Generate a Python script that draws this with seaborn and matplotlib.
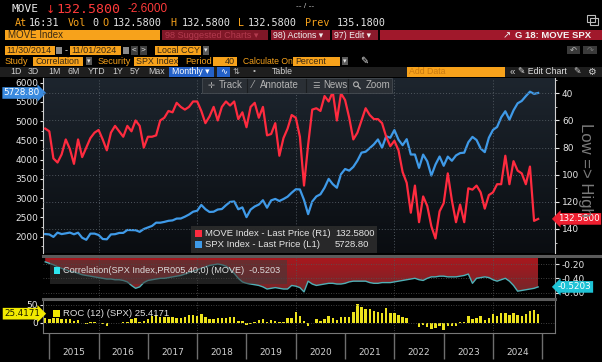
import numpy as np
import pandas as pd
import matplotlib
matplotlib.use("Agg")
import matplotlib.pyplot as plt
import matplotlib.transforms as mtrans
from matplotlib.patches import Rectangle, Circle
from matplotlib.colors import LinearSegmentedColormap
from matplotlib.ticker import MultipleLocator
import seaborn as sns

# ---- data: monthly points, Nov 2014 .. Nov 2024 ----
month_ends = pd.date_range("2014-11-30", "2024-11-30", freq="ME")

move = [66, 68, 88, 91, 85, 74, 81, 92, 74, 87,
        80, 73, 69, 67, 74, 82, 69, 64, 68, 72,
        64, 68, 60, 64, 80, 72, 72, 71, 60, 58,
        53, 54, 47, 50, 52, 50, 46, 46, 53, 62,
        57, 50, 60, 50, 46, 49, 46, 59, 54, 65,
        50, 47, 58, 50, 71, 70, 62, 86, 73, 66,
        56, 58, 72, 108, 78, 52, 51, 53, 42, 46,
        39, 60, 40, 45, 58, 74, 69, 60, 51, 56,
        59, 59, 62, 72, 79, 75, 82, 98, 106, 128,
        108, 135, 116, 123, 138, 147, 127, 121, 99, 119,
        135, 122, 135, 110, 111, 108, 113, 125, 115, 113,
        107, 107, 86, 107, 90, 97, 99, 107, 94, 134,
        132.58]

spx = [2068, 2059, 1995, 2105, 2068, 2086, 2107, 2063, 2104, 1972,
       1920, 2079, 2080, 2044, 1940, 1932, 2060, 2065, 2097, 2099,
       2174, 2171, 2168, 2126, 2199, 2239, 2279, 2364, 2363, 2384,
       2412, 2423, 2470, 2472, 2519, 2575, 2648, 2674, 2824, 2714,
       2641, 2648, 2705, 2718, 2816, 2902, 2914, 2712, 2760, 2507,
       2704, 2784, 2834, 2946, 2752, 2942, 2980, 2926, 2977, 3038,
       3141, 3231, 3226, 2954, 2585, 2912, 3044, 3100, 3271, 3500,
       3363, 3270, 3622, 3756, 3714, 3811, 3973, 4181, 4204, 4298,
       4395, 4523, 4308, 4605, 4567, 4766, 4516, 4374, 4530, 4132,
       4132, 3785, 4130, 3955, 3586, 3872, 4080, 3840, 4077, 3970,
       4109, 4169, 4180, 4450, 4589, 4508, 4288, 4194, 4568, 4770,
       4846, 5096, 5254, 5036, 5278, 5460, 5522, 5648, 5762, 5705,
       5728.80]

corr = [-0.17, -0.19, -0.21, -0.24, -0.26, -0.28, -0.30, -0.31, -0.33, -0.35,
        -0.36, -0.37, -0.38, -0.39, -0.40, -0.41, -0.41, -0.42, -0.42, -0.43,
        -0.45, -0.50, -0.54, -0.52, -0.46, -0.43, -0.42, -0.41, -0.40, -0.40,
        -0.39, -0.38, -0.37, -0.36, -0.34, -0.32, -0.30, -0.28, -0.26, -0.24,
        -0.22, -0.21, -0.20, -0.21, -0.23, -0.27, -0.33, -0.40, -0.45, -0.47,
        -0.48, -0.49, -0.50, -0.52, -0.55, -0.54, -0.53, -0.54, -0.55, -0.55,
        -0.50, -0.51, -0.53, -0.59, -0.44, -0.48, -0.50, -0.49, -0.48, -0.47,
        -0.47, -0.48, -0.48, -0.47, -0.45, -0.44, -0.44, -0.44, -0.44, -0.46,
        -0.47, -0.47, -0.46, -0.46, -0.46, -0.45, -0.44, -0.43, -0.42, -0.41,
        -0.40, -0.42, -0.43, -0.40, -0.38, -0.38, -0.37, -0.37, -0.38, -0.38,
        -0.38, -0.37, -0.36, -0.34, -0.47, -0.40, -0.39, -0.38, -0.39, -0.42,
        -0.44, -0.42, -0.40, -0.44, -0.50, -0.58, -0.57, -0.56, -0.55, -0.54,
        -0.5203]

roc = [14.5, 11.4, 11.9, 13.2, 10.4, 10.7, 9.6, 5.2, 9.0, -1.6,
       -2.6, 3.0, 0.6, -0.7, -2.7, -8.2, -0.4, -1.0, -0.5, 1.7,
       3.3, 10.1, 12.9, 2.3, 5.7, 9.5, 17.5, 22.3, 14.7, 15.4,
       15.0, 15.5, 13.7, 13.9, 16.2, 21.1, 20.4, 19.4, 23.9, 14.8,
       11.8, 11.1, 12.2, 12.2, 14.0, 17.4, 15.7, 5.3, 4.3, -6.2,
       -4.2, 2.6, 7.3, 11.2, 1.7, 8.2, 5.8, 0.9, 2.2, 12.0,
       13.8, 28.9, 19.3, 6.1, -8.8, -1.1, 10.6, 5.4, 9.8, 19.6,
       13.0, 7.7, 15.3, 16.3, 15.2, 29.0, 53.7, 43.6, 38.1, 38.6,
       34.4, 29.2, 28.1, 40.8, 26.1, 26.9, 21.6, 14.8, 14.0, -1.2,
       -1.7, -11.9, -6.0, -12.6, -16.8, -15.9, -10.7, -19.4, -9.7, -9.2,
       -9.3, 0.9, 1.2, 17.6, 11.1, 14.0, 19.6, 8.3, 12.0, 24.2,
       18.9, 28.4, 27.9, 20.8, 26.3, 22.7, 20.3, 25.3, 34.4, 36.0,
       25.4171]

year_labels = ["2015", "2016", "2017", "2018", "2019",
               "2020", "2021", "2022", "2023", "2024"]
left_ticks = [2000, 2500, 3000, 3500, 4000, 4500, 5000, 5500, 6000]
right_ticks = [40, 60, 80, 100, 120, 140]
corr_ticks = [-0.20, -0.40, -0.60]
roc_ticks = [0, 50]
grid_years = [2016, 2018, 2020, 2022, 2024]

t = np.asarray(month_ends.year + month_ends.month / 12.0, dtype=float)
df = pd.DataFrame({"t": t, "move": move, "spx": spx, "corr": corr, "roc": roc})

# ---- figure / helpers ----
W, H = 602, 362
plt.rcParams["font.family"] = ["DejaVu Sans"]
fig = plt.figure(figsize=(W / 100, H / 100), dpi=100, facecolor="black")

def px_axes(x0, y0, x1, y1):
    return fig.add_axes([x0 / W, 1 - y1 / H, (x1 - x0) / W, (y1 - y0) / H])

XLIM = (2014.872, 2025.258)
ORANGE = "#f7a21b"
DARK = "#3a2a14"
WHITE = "#e6e6e6"
RED = "#ff2b3f"
BLUE = "#3f9ae8"
DOT = (0, (1, 2))

# ---- main chart ----
bg = px_axes(43, 78, 555, 253)
bg.imshow(np.linspace(0, 1, 100).reshape(-1, 1), aspect="auto",
          cmap=LinearSegmentedColormap.from_list("bg", ["#1d252e", "#0a0d11"]),
          extent=[0, 1, 0, 1])
bg.axis("off")

ax = px_axes(43, 78, 555, 253)
ax.set_facecolor("none")
ax_r = ax.twinx()

sns.lineplot(data=df, x="t", y="spx", ax=ax, color=BLUE, linewidth=1.6)
sns.lineplot(data=df, x="t", y="move", ax=ax_r, color=RED, linewidth=1.6)

ax.set_xlim(XLIM)
ax.set_ylim(1577, 6117)
ax_r.set_ylim(157.7, 28.7)
for a in (ax, ax_r):
    a.set_xlabel("")
    a.set_ylabel("")

ax.set_xticks(grid_years)
ax.tick_params(axis="x", length=0, labelbottom=False)
ax.grid(axis="x", linestyle=DOT, color="#4e565e", linewidth=0.7)
ax.set_yticks(left_ticks)
ax.yaxis.set_minor_locator(MultipleLocator(250))
ax.tick_params(axis="y", which="major", colors=WHITE, labelsize=6.5,
               length=2.5, width=0.8, pad=1)
ax.tick_params(axis="y", which="minor", color=WHITE, length=1.5, width=0.6)

ax_r.set_yticks(right_ticks)
ax_r.yaxis.set_minor_locator(MultipleLocator(10))
ax_r.tick_params(axis="y", which="major", colors=WHITE, labelsize=6.5,
                 length=3, width=0.8, pad=2)
ax_r.tick_params(axis="y", which="minor", color=WHITE, length=1.5, width=0.6)
ax_r.grid(axis="y", linestyle=DOT, color="#4e565e", linewidth=0.7)
ax_r.tick_params(axis="x", length=0, labelbottom=False)

for s in ("top", "bottom", "right"):
    ax.spines[s].set_visible(False)
for s in ("top", "bottom", "left"):
    ax_r.spines[s].set_visible(False)
ax.spines["left"].set_color("#d0d0d0")
ax_r.spines["right"].set_color("#d0d0d0")

# value tags on the axes
tr_l = mtrans.blended_transform_factory(ax.transAxes, ax.transData)
ax.text(-0.006, spx[-1], f"{spx[-1]:.2f}", transform=tr_l, ha="right", va="center",
        fontsize=6.3, color="white", clip_on=False, zorder=20,
        bbox=dict(boxstyle="rarrow,pad=0.15", fc="#3a8ade", ec="none"))
tr_r = mtrans.blended_transform_factory(ax_r.transAxes, ax_r.transData)
ax_r.text(1.006, move[-1], f"{move[-1]:.4f}", transform=tr_r, ha="left", va="center",
          fontsize=6.3, color="white", clip_on=False, zorder=20,
          bbox=dict(boxstyle="larrow,pad=0.15", fc="#ee1f30", ec="none"))

# ---- correlation panel ----
ax_c = px_axes(43, 256, 555, 298)
ax_c.set_facecolor("black")
c_top, c_bot = -0.088, -0.6755
fill = ax_c.fill_between(df["t"], df["corr"], c_top, color="none", linewidth=0)
grad = ax_c.imshow(np.linspace(0, 1, 100).reshape(-1, 1), origin="lower", aspect="auto",
                   cmap=LinearSegmentedColormap.from_list("rd", ["#6a2b2b", "#8c1f24", "#ab171d"]),
                   extent=[t[0], t[-1], c_bot, c_top], zorder=1)
grad.set_clip_path(fill.get_paths()[0], transform=ax_c.transData)
sns.lineplot(data=df, x="t", y="corr", ax=ax_c, color="#4fb0b6", linewidth=1.0, zorder=3)
ax_c.set_xlim(XLIM)
ax_c.set_ylim(c_bot, c_top)
ax_c.set_xlabel("")
ax_c.set_ylabel("")
ax_c.yaxis.tick_right()
ax_c.set_yticks(corr_ticks, labels=[f"{v:.2f}" for v in corr_ticks])
ax_c.tick_params(axis="y", colors=WHITE, labelsize=6.5, length=3, width=0.8, pad=2)
ax_c.set_xticks(grid_years)
ax_c.tick_params(axis="x", length=0, labelbottom=False)
ax_c.grid(True, linestyle=DOT, color="#555555", linewidth=0.6)
for s in ("top", "bottom", "left"):
    ax_c.spines[s].set_visible(False)
ax_c.spines["right"].set_color("#8a8a8a")
tr_c = mtrans.blended_transform_factory(ax_c.transAxes, ax_c.transData)
ax_c.text(1.006, corr[-1], f"{corr[-1]:.4f}", transform=tr_c, ha="left", va="center",
          fontsize=6.3, color="white", clip_on=False, zorder=20,
          bbox=dict(boxstyle="larrow,pad=0.15", fc="#1ec3d6", ec="none"))

# ---- ROC panel ----
ax_o = px_axes(43, 299, 555, 333)
ax_o.set_facecolor("black")
sns.barplot(data=df, x="t", y="roc", ax=ax_o, native_scale=True, width=0.6,
            color="#ece21c", saturation=1, errorbar=None)
ax_o.set_xlim(XLIM)
ax_o.set_ylim(-29.1, 66.9)
ax_o.set_xlabel("")
ax_o.set_ylabel("")
ax_o.set_yticks(roc_ticks)
ax_o.tick_params(axis="y", colors=WHITE, labelsize=6.5, length=2.5, width=0.8, pad=1)
ax_o.grid(axis="y", linestyle=DOT, color="#555555", linewidth=0.6)
for yr in grid_years:
    ax_o.axvline(yr, linestyle=DOT, color="#555555", linewidth=0.6, zorder=0)
ax_o.set_xticks(range(2015, 2026), labels=[""] * 11)
ax_o.set_xticks([y + 0.5 for y in range(2015, 2025)], labels=year_labels, minor=True)
ax_o.tick_params(axis="x", which="major", length=19, width=1, color="#6e6e6e")
ax_o.tick_params(axis="x", which="minor", length=0, pad=11, labelsize=6.5,
                 labelcolor="#d0d0d0")
ax_o.spines["top"].set_visible(False)
for s in ("left", "right", "bottom"):
    ax_o.spines[s].set_color("#777777")
    ax_o.spines[s].set_linewidth(0.8)
tr_o = mtrans.blended_transform_factory(ax_o.transAxes, ax_o.transData)
ax_o.text(-0.006, roc[-1], f"{roc[-1]:.4f}", transform=tr_o, ha="right", va="center",
          fontsize=6.3, color="#1e1e00", clip_on=False, zorder=20,
          bbox=dict(boxstyle="rarrow,pad=0.15", fc="#f2ea00", ec="none"))

# ---- terminal chrome (pixel overlay) ----
ui = fig.add_axes([0, 0, 1, 1], zorder=10)
ui.set_xlim(0, W)
ui.set_ylim(H, 0)
ui.axis("off")
ui.patch.set_visible(False)

def box(x0, y0, x1, y1, fc, ec="none", lw=0, alpha=1.0):
    ui.add_patch(Rectangle((x0, y0), x1 - x0, y1 - y0, fc=fc, ec=ec, lw=lw, alpha=alpha))

def txt(x, y, s, color, size=6.6, ha="left", fam="Liberation Sans", **kw):
    ui.text(x, y, s, color=color, fontsize=size, ha=ha, va="center",
            family=[fam, "DejaVu Sans"], **kw)

# row 1
txt(11, 9.5, "MOVE", "#ececec", 8, fam="DejaVu Sans Mono")
txt(46, 9.5, "↓", "#ff3030", 8, fam="DejaVu Sans")
txt(56, 9.5, "132.5800", "#ff3a3a", 9.5, fam="DejaVu Sans Mono")
txt(128, 9.5, "-2.6000", "#ff3a3a", 8.5)
txt(296, 7, "-- / --", "#bdbdbd", 6)
box(587, 15, 595, 22, "none", ec="#bdbdbd", lw=0.8)
box(590, 18, 598, 25, "none", ec="#bdbdbd", lw=0.8)

# row 2
for x, s, c in [(15, "At", ORANGE), (29, "16:31", WHITE), (68, "Vol", ORANGE),
                (92, "0", WHITE), (102, "O", ORANGE), (113, "132.5800", WHITE),
                (170, "H", ORANGE), (182, "132.5800", WHITE), (238, "L", ORANGE),
                (248, "132.5800", WHITE), (305, "Prev", ORANGE), (337, "135.1800", WHITE)]:
    txt(x, 22.5, s, c, 7.3, fam="DejaVu Sans Mono")

# row 3
box(5, 29.5, 160, 40, ORANGE)
txt(8, 35, "MOVE Index", DARK, 7)
box(162, 29.5, 268, 40, "#7f1727")
txt(165, 35, "98 Suggested Charts ▾", "#b23a4e", 6.6)
box(271, 29.5, 330, 40, "#8c1a2c")
txt(273, 35, "98) Actions ▾", "#f0f0f0", 6.3)
box(332, 29.5, 378, 40, "#8c1a2c")
txt(334, 35, "97) Edit ▾", "#f0f0f0", 6.3)
box(380, 29.5, 602, 40, "#a0182b")
txt(503, 35, "↗", "#f0f0f0", 7, fam="DejaVu Sans")
txt(591, 35, "G 18: MOVE SPX", "#f4f4f4", 6.8, ha="right", weight="bold")

# row 4
box(5, 46, 55, 55, ORANGE)
txt(6, 50.5, "11/30/2014", DARK)
box(56, 47, 62, 54, "#8a8a8a")
txt(65, 50.5, "-", WHITE)
box(70, 46, 121, 55, ORANGE)
txt(71, 50.5, "11/01/2024", DARK)
box(123, 47, 129, 54, "#8a8a8a")
box(131, 46, 138, 55, "#3e3e3e")
txt(134.5, 50.5, "<", WHITE, 6, ha="center")
box(140, 46, 147, 55, "#3e3e3e")
txt(143.5, 50.5, ">", WHITE, 6, ha="center")
box(155, 46, 201, 55, ORANGE)
txt(157, 50.5, "Local CCY", DARK, 6.4)
box(203, 46, 209, 55, "#5a5a5a")
txt(206, 50.5, "▾", WHITE, 5, ha="center", fam="DejaVu Sans")
box(567, 46, 580, 54, "#3a3a3a")
txt(573.5, 50, "↶", "#bbbbbb", 6, ha="center", fam="DejaVu Sans")
box(583, 46, 597, 54, "#3a3a3a")
txt(590, 50, "↷", "#777777", 6, ha="center", fam="DejaVu Sans")

# row 5
txt(5, 61, "Study", ORANGE)
box(33, 56.5, 83, 65.5, ORANGE)
txt(35, 61, "Correlation", DARK, 6.4)
box(86, 57, 92, 65, "#5a5a5a")
txt(89, 61, "▾", WHITE, 5, ha="center", fam="DejaVu Sans")
txt(98, 61, "Security", ORANGE)
box(134, 56.5, 178, 65.5, ORANGE)
txt(135.5, 61, "SPX Index", DARK, 6.4)
txt(185, 61, "Period", ORANGE)
box(213, 56.5, 237, 65.5, ORANGE)
txt(235, 61, "40", DARK, ha="right")
txt(243, 61, "Calculate On", ORANGE, 6.2)
box(293, 56.5, 340, 65.5, ORANGE)
txt(295, 61, "Percent", DARK, 6.4)
box(342, 57, 348, 65, "#5a5a5a")
txt(345, 61, "▾", WHITE, 5, ha="center", fam="DejaVu Sans")
txt(360, 61, "✎", WHITE, 7, fam="DejaVu Sans")

# row 6
box(0, 66.5, 602, 77, "#1e1e1e")
for x, s in [(10, "1D"), (28, "3D"), (48, "1M"), (68, "6M"), (88, "YTD"),
             (112, "1Y"), (130, "5Y"), (148, "Max")]:
    txt(x, 71.7, s, "#cfcfcf", 6.3)
box(169, 67, 214, 76.5, "#2461c8")
txt(172, 71.7, "Monthly ▾", "white", 6.3)
box(217, 67, 230, 76.5, "#2461c8")
txt(223.5, 71.7, "∿", "white", 6, ha="center", fam="DejaVu Sans")
txt(233, 71.7, "⇅", "#bbbbbb", 6, fam="DejaVu Sans")
txt(253, 71.7, "•", "#bbbbbb", 6)
txt(272, 71.7, "Table", "#cfcfcf", 6.3)
box(407, 67, 505, 76.5, ORANGE)
txt(409, 71.7, "Add Data", "#c97a10", 6.3)
txt(510, 71.7, "«", "#cfcfcf", 7)
txt(518, 71.7, "✎ Edit Chart", "#e0e0e0", 6.3)
txt(573, 71.7, "✎", "#cfcfcf", 6.5, fam="DejaVu Sans")
txt(587, 71.7, "⚙", "#cfcfcf", 7, fam="DejaVu Sans")

# toolbar inside the chart
box(202, 78, 392, 93, "#2a2f35", ec="#464c52", lw=0.6)
for x in (247, 306, 348):
    ui.plot([x, x], [79, 92], color="#1a1d20", lw=0.8)
txt(208, 85.5, "✛", "#aeaeae", 6, fam="DejaVu Sans")
txt(219, 85.5, "Track", "#b4b4b4", 7)
txt(252, 85.5, "⁄", "#aeaeae", 7, fam="DejaVu Sans")
txt(260, 85.5, "Annotate", "#b4b4b4", 7)
txt(312, 85.5, "☰", "#aeaeae", 6, fam="DejaVu Sans")
txt(323, 85.5, "News", "#b4b4b4", 7)
ui.add_patch(Circle((356, 84.3), 2.4, fc="none", ec="#aeaeae", lw=0.8))
ui.plot([357.8, 360.2], [86.1, 88.5], color="#aeaeae", lw=0.9)
txt(366, 85.5, "Zoom", "#b4b4b4", 7)

# legend box
box(191, 226, 377, 253, "#2b2b2b", alpha=0.93)
box(195, 230, 202, 237, RED)
txt(205, 233.5, "MOVE Index - Last Price (R1)", "#e4e4e4", 6.8)
txt(335, 233.5, "132.5800", "#e4e4e4", 6.8)
box(195, 241, 202, 248, BLUE)
txt(205, 244.5, "SPX Index - Last Price (L1)", "#e4e4e4", 6.8)
txt(335, 244.5, "5728.80", "#e4e4e4", 6.8)

# right axis note
txt(586, 170, "Low => High", "#7a7a7a", 12, ha="center", rotation=270)

# panel separators
ui.plot([43, 600], [255.5, 255.5], color="#5b5b5b", lw=2.2)
ui.plot([43, 555], [298.5, 298.5], color="#5b5b5b", lw=2.2)

# study labels
box(50, 260, 287, 284, "#3c3c3c", alpha=0.55)
box(54, 267, 60, 273.5, "#2ee6f0")
txt(63, 270.5, "Correlation(SPX Index,PR005,40,0) (MOVE)  -0.5203", "#dcdcdc", 6.6)
box(53, 310, 59.5, 316.5, "#f0e800")
txt(63, 313.2, "ROC (12) (SPX) 25.4171", "#e0e0e0", 6.8)

fig.savefig("out.png", dpi=100, facecolor="black")
